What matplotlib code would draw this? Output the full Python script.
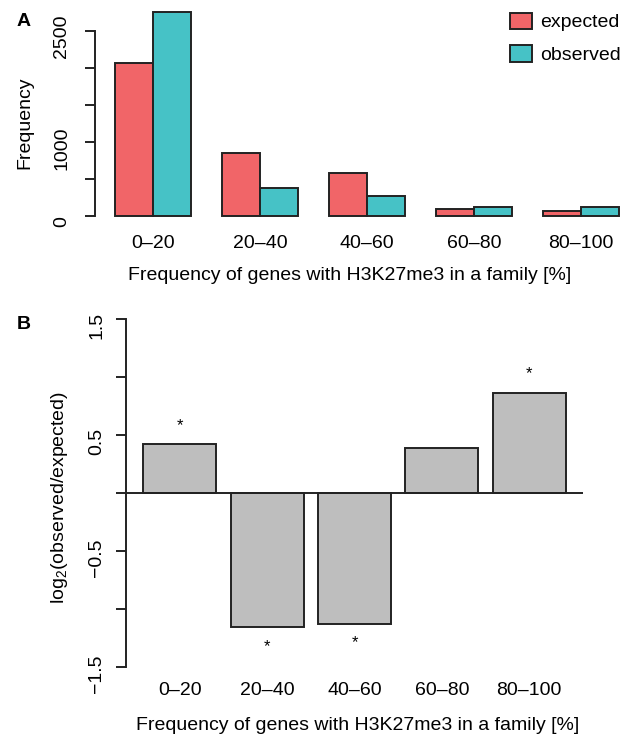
import matplotlib
matplotlib.use("Agg")
import matplotlib.pyplot as plt
from matplotlib.transforms import ScaledTranslation
import numpy as np

plt.rcParams['font.family'] = ['Liberation Sans', 'DejaVu Sans']
plt.rcParams['font.size'] = 14
plt.rcParams['mathtext.fontset'] = 'custom'
plt.rcParams['mathtext.rm'] = 'Liberation Sans'
plt.rcParams['mathtext.default'] = 'regular'

# data
bins = ['0–20', '20–40', '40–60', '60–80', '80–100']
expected = [2060, 854, 584, 95, 70]
observed = [2756, 382, 270, 125, 123]
log_ratio = [0.421, -1.156, -1.124, 0.392, 0.865]
significant = [True, True, True, False, True]

freq_ticks = [0, 500, 1000, 1500, 2000, 2500]
freq_labels = ['0', '', '1000', '', '', '2500']
ratio_ticks = [-1.5, -1.0, -0.5, 0.0, 0.5, 1.0, 1.5]
ratio_labels = ['−1.5', '', '−0.5', '', '0.5', '', '1.5']

xlabel = 'Frequency of genes with H3K27me3 in a family [%]'
red = '#F16568'
cyan = '#46C2C6'
edge = '#222222'
W, H = 630, 736


def px(left, top, right, bottom):
    """pixel box -> figure fraction [l, b, w, h]"""
    return [left / W, 1 - bottom / H, (right - left) / W, (bottom - top) / H]


def r_style(ax, ypad):
    for s in ['top', 'right', 'bottom']:
        ax.spines[s].set_visible(False)
    ax.spines['left'].set_linewidth(1.4)
    ax.spines['left'].set_color(edge)
    ax.tick_params(axis='y', length=7.2, width=1.4, color=edge, pad=ypad)
    ax.tick_params(axis='x', length=0)


def nudge_ylabels(ax, fig):
    # the rotated labels in the original sit a few pixels below their ticks
    shift = ScaledTranslation(0, -0.06, fig.dpi_scale_trans)
    for lbl in ax.get_yticklabels():
        lbl.set_transform(lbl.get_transform() + shift)


fig = plt.figure(figsize=(W / 100, H / 100), dpi=100)

# ---- panel A: grouped bars
axA = fig.add_axes(px(94.8, 3.5, 639.5, 224.2))
r_style(axA, 10.5)
n = len(bins)
left_edges = 0.8 + 2.8 * np.arange(n)
axA.bar(left_edges, expected, width=1, align='edge', color=red,
        edgecolor=edge, linewidth=1.4, label='expected')
axA.bar(left_edges + 1, observed, width=1, align='edge', color=cyan,
        edgecolor=edge, linewidth=1.4, label='observed')
axA.set_xlim(0.272, 14.528)
axA.set_ylim(-110, 2866)
axA.spines['left'].set_bounds(0, 2500)
axA.set_yticks(freq_ticks)
axA.set_yticklabels(freq_labels, rotation=90, va='center')
nudge_ylabels(axA, fig)
axA.set_xticks(left_edges + 1)
axA.set_xticklabels(bins)
axA.tick_params(axis='x', pad=8)
axA.legend(loc='upper left', bbox_to_anchor=(510 / W, 1 - 12.5 / H),
           bbox_transform=fig.transFigure, frameon=False, borderpad=0,
           borderaxespad=0, handlelength=1.12, handleheight=0.91,
           handletextpad=0.45, labelspacing=0.72)

fig.text(349.7 / W, 1 - 275 / H, xlabel, ha='center', va='center')
fig.text(25 / W, 1 - 123 / H, 'Frequency', rotation=90, ha='center', va='center')
fig.text(24 / W, 1 - 22 / H, 'A', fontweight='bold', ha='center', va='center')

# ---- panel B: log2 ratio
axB = fig.add_axes(px(126.4, 305.4, 582.6, 681.2))
r_style(axB, 8)
centers = 0.7 + 1.2 * np.arange(n)
axB.bar(centers, log_ratio, width=1, color='#BEBEBE', edgecolor=edge, linewidth=1.4)
axB.axhline(0, color=edge, linewidth=1.4)
for x, v, sig in zip(centers, log_ratio, significant):
    if sig:
        off = 0.165 if v > 0 else -0.165
        axB.text(x, v + off, '*', ha='center', va='center', fontsize=12)
axB.set_xlim(-0.032, 6.232)
axB.set_ylim(-1.62, 1.62)
axB.spines['left'].set_bounds(-1.5, 1.5)
axB.set_yticks(ratio_ticks)
axB.set_yticklabels(ratio_labels, rotation=90, va='center')
nudge_ylabels(axB, fig)
axB.set_xticks(centers)
axB.set_xticklabels(bins)
axB.tick_params(axis='x', pad=0.5)

fig.text(357.5 / W, 1 - 725 / H, xlabel, ha='center', va='center')
fig.text(60 / W, 1 - 498 / H, 'log$_2$(observed/expected)', rotation=90,
         ha='center', va='center')
fig.text(24 / W, 1 - 324 / H, 'B', fontweight='bold', ha='center', va='center')

fig.savefig('out.png', dpi=100)
